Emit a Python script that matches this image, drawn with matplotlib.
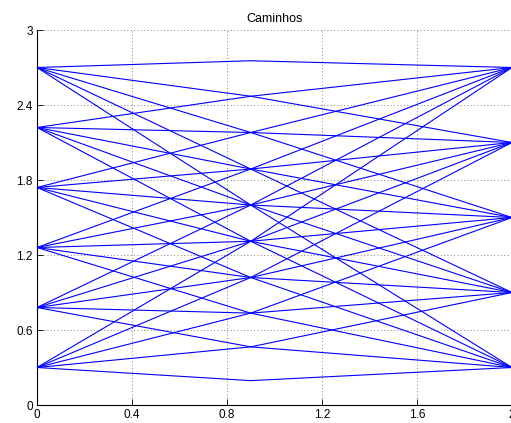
import matplotlib
matplotlib.use("Agg")
import matplotlib.pyplot as plt

plt.rcParams["font.family"] = ["Liberation Sans", "DejaVu Sans"]

# Node columns
left_x = 0.0
mid_x = 0.9
right_x = 2.0
left_y = [0.30, 0.78, 1.26, 1.74, 2.22, 2.70]
right_y = [0.30, 0.90, 1.50, 2.10, 2.70]
# middle nodes, path (i, j) passes through mid node i + j
mid_y = [0.195, 0.465, 0.735, 1.02, 1.31, 1.60, 1.888, 2.18, 2.47, 2.754]

x_ticks = [0, 0.4, 0.8, 1.2, 1.6, 2]
x_labels = ["0", "0.4", "0.8", "1.2", "1.6", "2"]
y_ticks = [0, 0.6, 1.2, 1.8, 2.4, 3]
y_labels = ["0", "0.6", "1.2", "1.8", "2.4", "3"]

W, H = 511, 423
fig = plt.figure(figsize=(W / 100, H / 100), dpi=100)
ax = fig.add_axes([37 / W, (H - 405) / H, (512 - 37) / W, (405 - 30) / H])

for i, yl in enumerate(left_y):
    for j, yr in enumerate(right_y):
        ym = mid_y[i + j]
        ax.plot([left_x, mid_x, right_x], [yl, ym, yr], color=(0, 0, 1), lw=0.8,
                solid_joinstyle="miter", zorder=3)

ax.set_xlim(0, 2)
ax.set_ylim(0, 3)
ax.set_xticks(x_ticks)
ax.set_xticklabels(x_labels)
ax.set_yticks(y_ticks)
ax.set_yticklabels(y_labels)
ax.tick_params(direction="in", length=4, width=0.6, labelsize=8.5, pad=3, colors="black")
ax.grid(True, linestyle=(0, (1, 3)), color="0.35", linewidth=0.6)
ax.spines["top"].set_visible(False)
ax.spines["right"].set_visible(False)
ax.spines["left"].set_linewidth(0.8)
ax.spines["bottom"].set_linewidth(0.8)
ax.set_title("Caminhos", fontsize=9, pad=6)

fig.savefig("out.png", dpi=100)
